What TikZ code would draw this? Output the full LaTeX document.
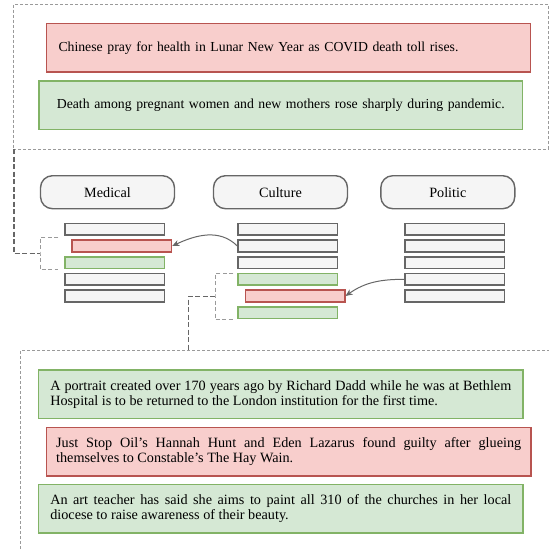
\documentclass[tikz,border=0pt]{standalone}
\usepackage{fontspec}
\setmainfont{Liberation Serif}
\usetikzlibrary{arrows.meta}
\definecolor{redfill}{HTML}{F8CECC}
\definecolor{redline}{HTML}{B85450}
\definecolor{greenfill}{HTML}{D5E8D4}
\definecolor{greenline}{HTML}{82B366}
\definecolor{grayfill}{HTML}{F5F5F5}
\definecolor{grayline}{HTML}{666666}
\definecolor{dashgray}{HTML}{9A9A9A}
\begin{document}
\begin{tikzpicture}[x=1pt,y=-1pt,
  every node/.style={font=\fontsize{14.2}{14.8}\selectfont},
  topfont/.style={font=\fontsize{13.75}{14.8}\selectfont},
  newsbox/.style={line width=1.3pt, minimum height=48.7pt, inner ysep=0pt},
  newsred/.style={newsbox, draw=redline, fill=redfill},
  newsgreen/.style={newsbox, draw=greenline, fill=greenfill},
  headbox/.style={draw=grayline, fill=grayfill, line width=1.4pt, rounded corners=12pt,
    minimum width=134pt, minimum height=33pt, inner sep=0pt},
  bar/.style={draw=grayline, fill=grayfill, line width=1.5pt, minimum width=99.5pt,
    minimum height=11.8pt, inner sep=0pt},
  barred/.style={bar, draw=redline, fill=redfill},
  bargreen/.style={bar, draw=greenline, fill=greenfill},
  dashbox/.style={draw=dashgray, line width=0.9pt, dash pattern=on 3pt off 2pt},
  bracket/.style={draw=dashgray, line width=1pt, dash pattern=on 4pt off 2.5pt},
  conn/.style={draw=grayline, line width=1.2pt, dash pattern=on 5pt off 2.5pt},
  curvearrow/.style={draw=grayline, line width=1pt, -{Stealth[length=7pt,width=6pt,inset=2pt]}}
]
\useasboundingbox (0,0) rectangle (549,549);

% top dashed frame
\node[dashbox, minimum width=535pt, minimum height=144.7pt, inner sep=0pt] (topbox) at (280.8,76.65) {};
\node[newsred, topfont, minimum width=484.3pt, text width=460pt, align=left, inner xsep=12.2pt] (tr) at (288.5,47.7) {Chinese pray for health in Lunar New Year as COVID death toll rises.};
\node[newsgreen, topfont, minimum width=483.7pt, text width=476pt, align=center, inner xsep=3.8pt] (tg) at (280.8,105.3) {Death among pregnant women and new mothers rose sharply during pandemic.};

% headers
\node[headbox] (hm) at (107.5,192.2) {Medical};
\node[headbox] (hc) at (280.5,192.2) {Culture};
\node[headbox] (hp) at (447.8,192.2) {Politic};

% medical bars
\node[bar] (m1) at (114.5,229.3) {};
\node[barred] (m2) at (121.7,246) {};
\node[bargreen] (m3) at (114.5,262.7) {};
\node[bar] (m4) at (114.5,279.3) {};
\node[bar] (m5) at (114.5,296) {};

% culture bars
\node[bar] (c1) at (287.8,229.3) {};
\node[bar] (c2) at (287.8,246) {};
\node[bar] (c3) at (287.8,262.7) {};
\node[bargreen] (c4) at (287.8,279.3) {};
\node[barred] (c5) at (295,296) {};
\node[bargreen] (c6) at (287.8,312.7) {};

% politic bars
\node[bar] (p1) at (454.8,229.3) {};
\node[bar] (p2) at (454.8,246) {};
\node[bar] (p3) at (454.8,262.7) {};
\node[bar] (p4) at (454.8,279.3) {};
\node[bar] (p5) at (454.8,296) {};

% brackets
\coordinate (mbt) at (58.3,237.3);
\coordinate (mbb) at (58.3,269.3);
\coordinate (mbm) at (40,253.3);
\draw[bracket] (mbt) -| (mbm) |- (mbb);
\coordinate (cbt) at (233.3,273.3);
\coordinate (cbb) at (233.3,319.3);
\coordinate (cbm) at (215,296.3);
\draw[bracket] (cbt) -| (cbm) |- (cbb);

% bottom dashed frame
\coordinate (bfr) at (550,350.7);
\coordinate (bft) at (188.3,350.7);
\coordinate (bfl) at (20.7,550);
\draw[dashbox] (bfr) -| (bfl);

% connectors
\coordinate (tl) at (14,149);
\draw[conn] (tl) |- (mbm);
\draw[conn] (cbm) -| (bft);

% curved arrows
\draw[curvearrow] (c2.west) to[out=135,in=25] (m2.east);
\draw[curvearrow] (p4.west) to[out=180,in=35] (c5.east);

% bottom news
\node[newsgreen, minimum width=484.3pt, text width=461pt, align=justify, inner xsep=11.6pt] (bg1) at (280.8,394.3) {A portrait created over 170 years ago by Richard Dadd while he was at Bethlem\linebreak Hospital is to be returned to the London institution for the first time.};
\node[newsred, minimum width=484.3pt, text width=465pt, align=justify, inner xsep=9.6pt] (br) at (288.7,451.7) {Just Stop Oil’s Hannah Hunt and Eden Lazarus found guilty after glueing\linebreak themselves to Constable’s The Hay Wain.};
\node[newsgreen, minimum width=484.3pt, text width=461pt, align=justify, inner xsep=11.6pt] (bg2) at (280.8,508.7) {An art teacher has said she aims to paint all 310 of the churches in her local\linebreak diocese to raise awareness of their beauty.};
\end{tikzpicture}
\end{document}
